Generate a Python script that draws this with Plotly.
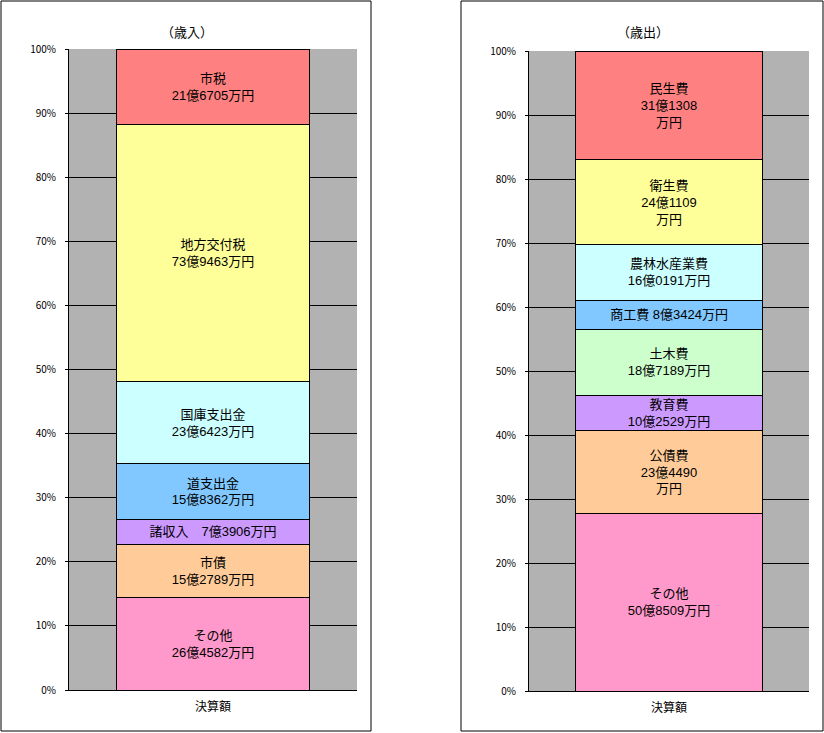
import plotly.graph_objects as go

category = ["決算額"]

# 歳入 (bottom to top), values in 万円
rev_names = ["その他", "市債", "諸収入", "道支出金", "国庫支出金", "地方交付税", "市税"]
rev_values = [264582, 152789, 73906, 158362, 236423, 739463, 216705]
rev_labels = ["その他<br>26億4582万円", "市債<br>15億2789万円", "諸収入　7億3906万円",
              "道支出金<br>15億8362万円", "国庫支出金<br>23億6423万円",
              "地方交付税<br>73億9463万円", "市税<br>21億6705万円"]
rev_colors = ["#FF99CC", "#FFCC99", "#CC99FF", "#80C8FF", "#CCFFFF", "#FFFF99", "#FF8080"]

# 歳出 (bottom to top), values in 万円
exp_names = ["その他", "公債費", "教育費", "土木費", "商工費", "農林水産業費", "衛生費", "民生費"]
exp_values = [508509, 234490, 102529, 187189, 83424, 160191, 241109, 311308]
exp_labels = ["その他<br>50億8509万円", "公債費<br>23億4490<br>万円", "教育費<br>10億2529万円",
              "土木費<br>18億7189万円", "商工費 8億3424万円", "農林水産業費<br>16億0191万円",
              "衛生費<br>24億1109<br>万円", "民生費<br>31億1308<br>万円"]
exp_colors = ["#FF99CC", "#FFCC99", "#CC99FF", "#CCFFCC", "#80C8FF", "#CCFFFF", "#FFFF99", "#FF8080"]

FONT = "Noto Sans CJK JP"
BAR_FONT = "Liberation Sans, Noto Sans CJK JP"
W, H = 824, 733

fig = go.Figure()

def add_stack(names, values, labels, colors, xa, ya):
    for n, v, t, c in zip(names, values, labels, colors):
        fig.add_trace(go.Bar(
            x=category, y=[v], name=n, text=[t], textposition="inside",
            insidetextanchor="middle", textangle=0,
            textfont=dict(family=BAR_FONT, size=13, color="black"),
            marker=dict(color=c, line=dict(color="black", width=1)),
            xaxis=xa, yaxis=ya, showlegend=False, hoverinfo="skip",
        ))

add_stack(rev_names, rev_values, rev_labels, rev_colors, "x", "y")
add_stack(exp_names, exp_values, exp_labels, exp_colors, "x2", "y2")

def px(x):
    return x / W

def py(y):
    return (H - y) / H

axis_common_y = dict(range=[0, 100], dtick=10, ticksuffix="%", showgrid=True,
                     gridcolor="black", gridwidth=1, showline=True, linecolor="black",
                     linewidth=1, ticks="outside", ticklen=3, tickcolor="black",
                     ticklabelstandoff=7,
                     tickfont=dict(family=FONT, size=10, color="black"), zeroline=False,
                     fixedrange=True, automargin=False)
axis_common_x = dict(showline=True, linecolor="black", linewidth=1, showgrid=False,
                     ticks="", ticklabelstandoff=6,
                     tickfont=dict(family=FONT, size=12, color="black"),
                     fixedrange=True, automargin=False)

fig.update_layout(
    width=W, height=H,
    margin=dict(l=0, r=0, t=0, b=0, pad=0),
    autosize=False,
    paper_bgcolor="white",
    plot_bgcolor="#B2B2B2",
    barmode="stack", barnorm="percent", bargap=0.33,
    font=dict(family=FONT, color="black"),
    xaxis=dict(domain=[px(69), px(357)], anchor="y", **axis_common_x),
    yaxis=dict(domain=[py(690), py(49)], anchor="x", **axis_common_y),
    xaxis2=dict(domain=[px(529), px(809)], anchor="y2", **axis_common_x),
    yaxis2=dict(domain=[py(691), py(51)], anchor="x2", **axis_common_y),
    shapes=[
        dict(type="rect", xref="paper", yref="paper", x0=px(1), x1=px(371), y0=py(731), y1=py(1),
             line=dict(color="black", width=1), fillcolor="rgba(0,0,0,0)", layer="below"),
        dict(type="rect", xref="paper", yref="paper", x0=px(461), x1=px(823), y0=py(731), y1=py(1),
             line=dict(color="black", width=1), fillcolor="rgba(0,0,0,0)", layer="below"),
    ],
    annotations=[
        dict(text="（歳入）", x=px(187), y=py(32), xref="paper", yref="paper",
             xanchor="center", yanchor="middle",
             showarrow=False, font=dict(family=FONT, size=13, color="black")),
        dict(text="（歳出）", x=px(643), y=py(32), xref="paper", yref="paper",
             xanchor="center", yanchor="middle",
             showarrow=False, font=dict(family=FONT, size=13, color="black")),
    ],
)

fig.update_traces(constraintext="none", cliponaxis=False)

fig.write_html("out.html", config={"displayModeBar": False},
               post_script="document.body.style.margin='0';document.body.style.padding='0';")
